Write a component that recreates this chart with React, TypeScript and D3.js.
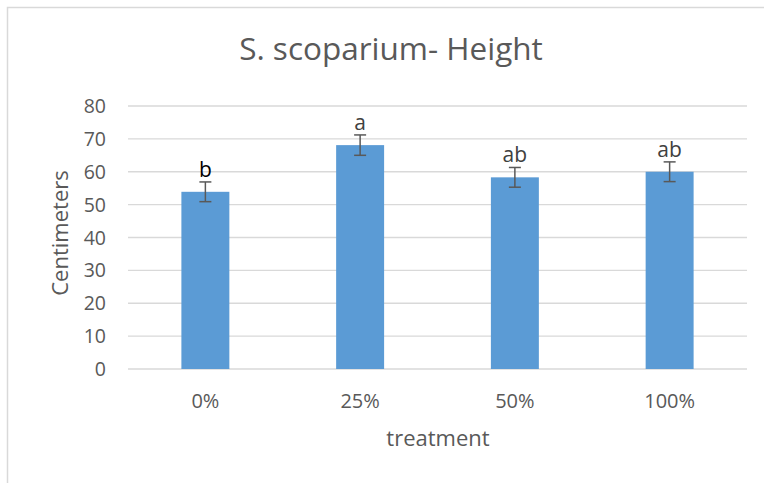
import React from "react";
import * as d3 from "d3";

const categories = ["0%", "25%", "50%", "100%"];
const values = [53.9, 68.1, 58.3, 60.0];
const errors = [3.0, 3.1, 3.0, 3.0];
const letters = ["b", "a", "ab", "ab"];
const yTicks = [0, 10, 20, 30, 40, 50, 60, 70, 80];

const W = 764;
const H = 483;
const FONT = "'Open Sans', sans-serif";

export default function App() {
  const left = 128;
  const right = 747;
  const top = 106;
  const bottom = 369;
  const x = d3.scaleBand<string>().domain(categories).range([left, right]).paddingInner(0.69).paddingOuter(0.345);
  const y = d3.scaleLinear().domain([0, 80]).range([bottom, top]);
  const bw = x.bandwidth();

  return (
    <div style={{ position: "fixed", left: 0, top: 0 }}>
      <svg width={W} height={H} style={{ display: "block", background: "#fff" }}>
        <rect x={7.5} y={7.5} width={900} height={600} fill="#fff" stroke="#d9d9d9" strokeWidth={1.5} />
        <text x={391} y={60} textAnchor="middle" fontFamily={FONT} fontSize={31.5} fill="#595959">
          S. scoparium- Height
        </text>
        {yTicks.map((t) => (
          <g key={t}>
            <line x1={left} x2={right} y1={y(t)} y2={y(t)} stroke="#d9d9d9" strokeWidth={1.3} />
            <text x={106} y={y(t)} dy="0.36em" textAnchor="end" fontFamily={FONT} fontSize={19.5} fill="#595959">
              {t}
            </text>
          </g>
        ))}
        {categories.map((c, i) => {
          const cx = (x(c) as number) + bw / 2;
          const yt = y(values[i] + errors[i]);
          const yb = y(values[i] - errors[i]);
          return (
            <g key={c}>
              <rect x={x(c)} y={y(values[i])} width={bw} height={y(0) - y(values[i])} fill="#5b9bd5" />
              <line x1={cx} x2={cx} y1={yt} y2={yb} stroke="#595959" strokeWidth={1.5} />
              <line x1={cx - 6} x2={cx + 6} y1={yt} y2={yt} stroke="#595959" strokeWidth={1.5} />
              <line x1={cx - 6} x2={cx + 6} y1={yb} y2={yb} stroke="#595959" strokeWidth={1.5} />
              <text x={cx} y={yt - 5} textAnchor="middle" fontFamily={FONT} fontSize={21} fill={i === 0 ? "#000" : "#404040"}>
                {letters[i]}
              </text>
              <text x={cx} y={408} textAnchor="middle" fontFamily={FONT} fontSize={20} fill="#595959">
                {c}
              </text>
            </g>
          );
        })}
        <text x={438} y={446} textAnchor="middle" fontFamily={FONT} fontSize={22} fill="#595959">
          treatment
        </text>
        <text
          transform={`translate(68,233) rotate(-90)`}
          textAnchor="middle"
          fontFamily={FONT}
          fontSize={22}
          fill="#595959"
        >
          Centimeters
        </text>
      </svg>
    </div>
  );
}
